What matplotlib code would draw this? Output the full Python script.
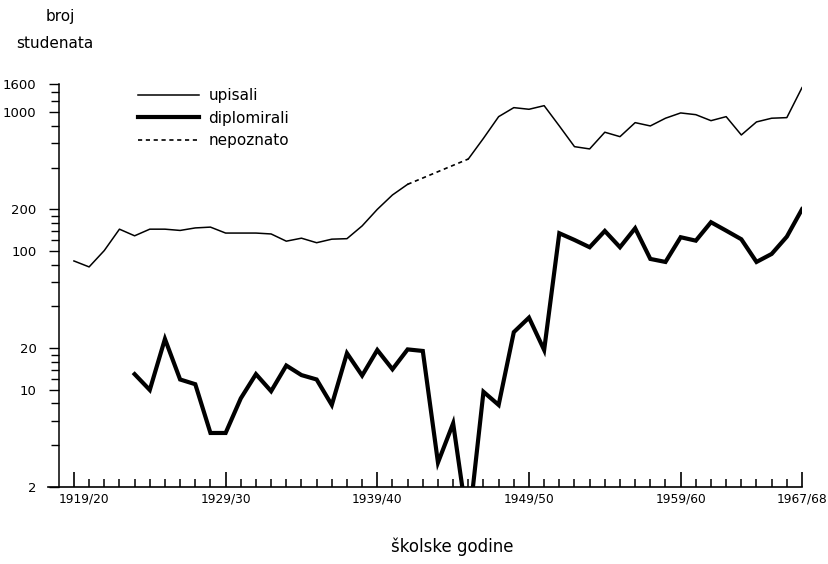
import matplotlib
matplotlib.use("Agg")
import matplotlib.pyplot as plt
import matplotlib.transforms as mtransforms
from matplotlib.ticker import FixedLocator, NullFormatter

# enrolled students (upisali), school years 1919/20 .. 1941/42
years_upisali_a = list(range(1919, 1942))
upisali_a = [85, 77, 101, 144, 129, 144, 144, 141, 147, 149, 135, 135,
             135, 133, 118, 124, 115, 122, 123, 152, 200, 254, 303]

# missing years (nepoznato) - just the two known ends
years_nepoznato = [1941, 1945]
nepoznato = [303, 461]

# enrolled students, 1945/46 .. 1967/68
years_upisali_b = list(range(1945, 1968))
upisali_b = [461, 650, 931, 1081, 1052, 1117, 798, 566, 545, 719, 668, 843,
             798, 907, 990, 962, 871, 931, 687, 853, 907, 916, 1506]

# graduates (diplomirali), 1923/24 .. 1967/68 (1945/46 below the scale)
years_diplomirali = list(range(1923, 1968))
diplomirali = [13.0, 10.0, 23.3, 11.9, 11.0, 4.9, 4.9, 8.7, 13.0, 9.8,
               15.0, 12.8, 11.9, 7.8, 18.4, 12.7, 19.4, 14.1, 19.6, 19.1,
               3.0, 5.75, 1.0, 9.7, 7.8, 26.1, 33.2, 19.4, 134.6, 120.4,
               106.7, 139.8, 106.7, 146.2, 87.9, 83.6, 126, 119, 161.6, 140.5,
               121.8, 83.6, 95.5, 127.2, 200.4]

year_labels = ["1919/20", "1929/30", "1939/40", "1949/50", "1959/60", "1967/68"]
label_years = [1919, 1929, 1939, 1949, 1959, 1967]
y_major = [2, 10, 20, 100, 200, 1000, 1600]
y_minor = [4, 6, 8, 12, 14, 16, 18, 40, 60, 80, 120, 140, 160, 180,
           400, 600, 800, 1200, 1400]

fig = plt.figure(figsize=(8.29, 5.64), dpi=100)
ax = fig.add_axes([48 / 829, 77 / 564, 754 / 829, 403 / 564])

ax.plot(years_upisali_a, upisali_a, color="black", lw=1.1, label="upisali")
ax.plot(years_upisali_b, upisali_b, color="black", lw=1.1)
ax.plot(years_diplomirali, diplomirali, color="black", lw=3.0,
        solid_joinstyle="miter", label="diplomirali")
ax.plot(years_nepoznato, nepoznato, color="black", lw=1.2,
        dashes=(2.5, 2.2), label="nepoznato")

ax.set_yscale("log")
ax.set_ylim(2, 1600)
ax.set_xlim(1917.29, 1967)

for s in ["top", "right"]:
    ax.spines[s].set_visible(False)
ax.spines["left"].set_position(("data", 1918.0))
ax.spines["left"].set_linewidth(1.1)
ax.spines["bottom"].set_linewidth(1.2)

# y axis
ax.yaxis.set_major_locator(FixedLocator(y_major))
ax.yaxis.set_minor_locator(FixedLocator(y_minor))
ax.yaxis.set_minor_formatter(NullFormatter())
ax.set_yticklabels([str(v) for v in y_major])
ax.tick_params(axis="y", which="major", direction="out", length=7, width=1,
               pad=9, labelsize=9.5)
ax.tick_params(axis="y", which="minor", direction="out", length=6, width=1)

# x axis: a tick every school year, longer ones at the labels
ax.xaxis.set_major_locator(FixedLocator(label_years))
ax.xaxis.set_minor_locator(FixedLocator(range(1919, 1968)))
ax.set_xticklabels(year_labels)
ax.tick_params(axis="x", which="major", direction="in", length=11, width=1.2,
               pad=4, labelsize=8.8)
ax.tick_params(axis="x", which="minor", direction="in", length=6, width=1.1)
first = ax.get_xticklabels()[0]
first.set_transform(first.get_transform() +
                    mtransforms.ScaledTranslation(0.10, 0, fig.dpi_scale_trans))

fig.text(60 / 829, 1 - 16 / 564, "broj", fontsize=11, ha="center", va="center")
fig.text(55 / 829, 1 - 43 / 564, "studenata", fontsize=11, ha="center", va="center")
fig.text(452 / 829, 1 - 547 / 564, "školske godine", fontsize=12,
         ha="center", va="center")

ax.legend(loc="upper left", bbox_to_anchor=(138 / 829, 1 - 88 / 564),
          bbox_transform=fig.transFigure, frameon=False, fontsize=11,
          handlelength=4.0, handletextpad=0.6, labelspacing=0.5,
          borderpad=0, borderaxespad=0)

fig.savefig("out.png", dpi=100)
